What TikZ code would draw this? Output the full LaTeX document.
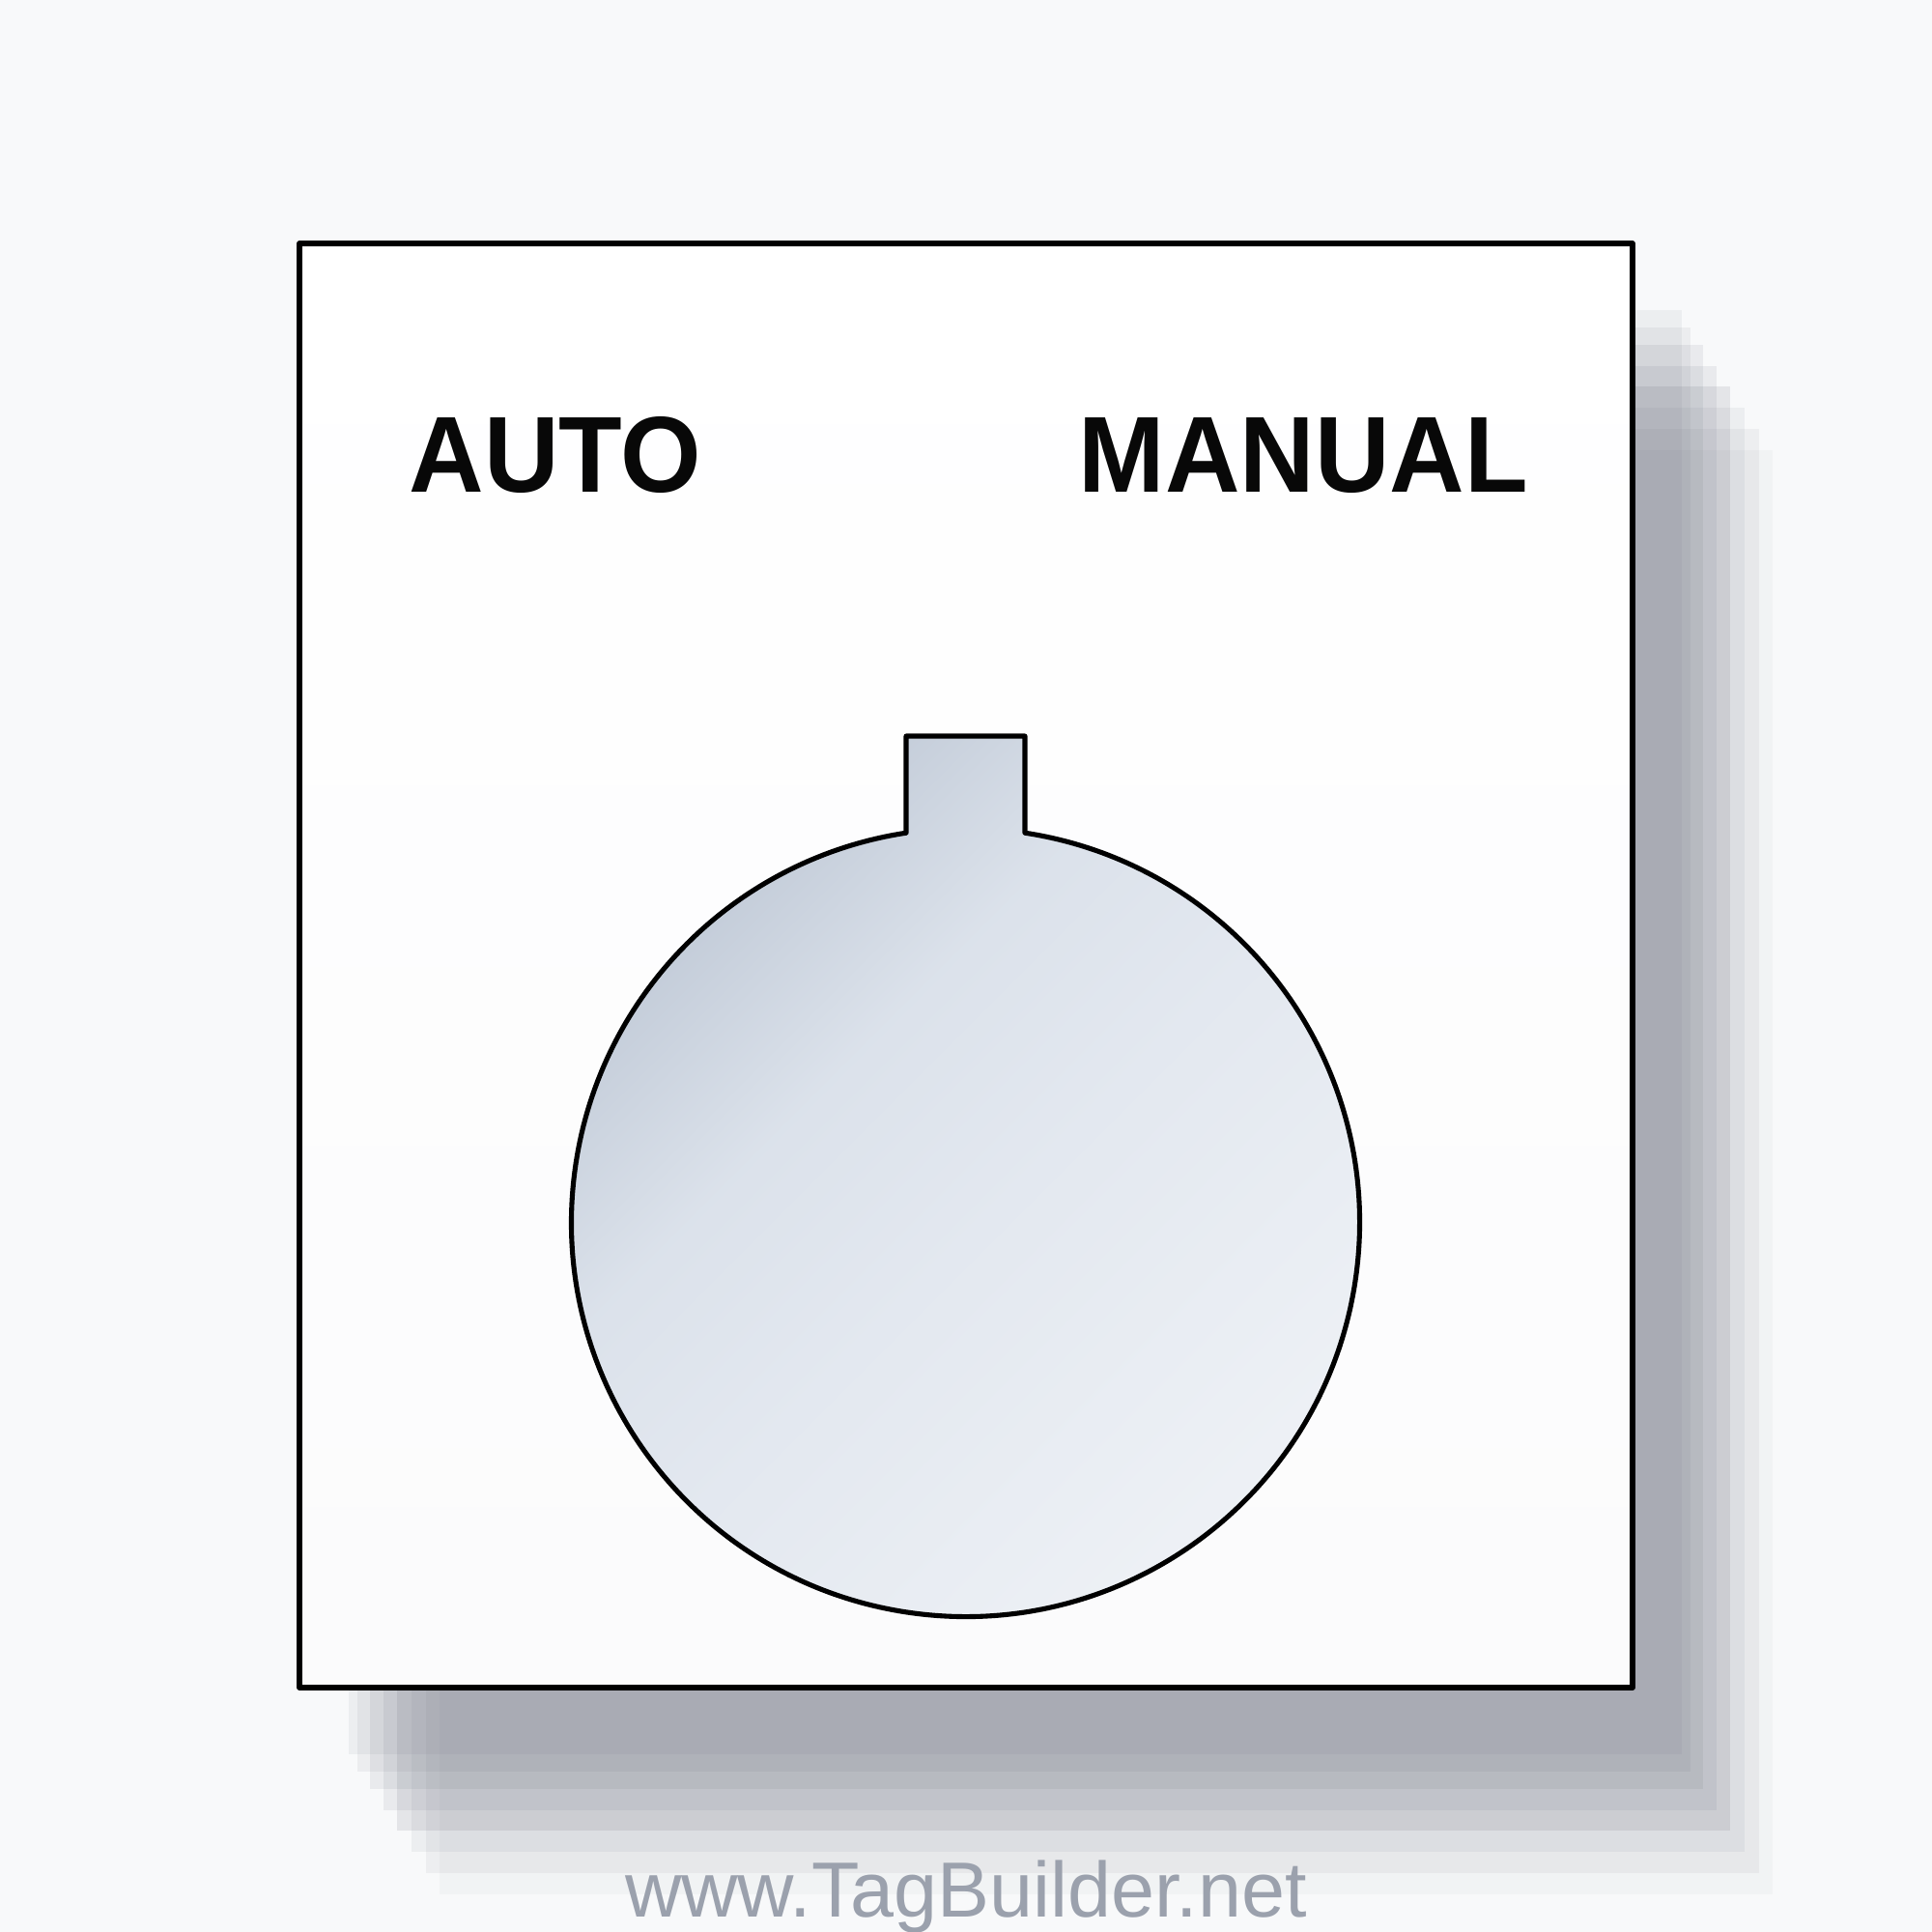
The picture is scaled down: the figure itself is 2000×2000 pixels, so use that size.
\documentclass[tikz,border=0pt]{standalone}
\usepackage{fontspec}
\setmainfont{Liberation Sans}
\definecolor{bgc}{RGB}{248,249,250}
\definecolor{shc}{RGB}{90,97,112}
\definecolor{wmc}{RGB}{155,161,173}
\definecolor{txc}{RGB}{8,8,8}
\definecolor{platebot}{RGB}{251,251,252}
\pgfdeclarehorizontalshading{keyshade}{100bp}{rgb(0bp)=(0.72,0.76,0.82); rgb(28bp)=(0.765,0.80,0.85); rgb(40bp)=(0.86,0.885,0.92); rgb(52bp)=(0.89,0.91,0.94); rgb(76bp)=(0.935,0.947,0.963); rgb(100bp)=(0.961,0.969,0.980)}
\tikzset{
  outline/.style={draw=black, line width=1.45pt, line join=round},
  shadowlayer/.style={fill=shc, fill opacity=#1},
  bigtxt/.style={anchor=base west, inner sep=0pt, text=txc, font=\bfseries\fontsize{31.8}{36}\selectfont, xscale=0.96},
}
\begin{document}
\begin{tikzpicture}[x=0.01cm,y=-0.01cm]
\fill[bgc] (0,0) rectangle (2000,2000);
\useasboundingbox (0,0) rectangle (2000,2000);
% stacked shadow
\foreach \l/\t/\o in {361/321/0.07, 370/339/0.075, 383/357/0.095, 397/379/0.095, 411/400/0.125, 426/422/0.07, 441/444/0.065, 455/466/0.04}
  \fill[shadowlayer=\o] (\l,\t) rectangle ++(1380,1495);
% plate
\path[outline, top color=white, bottom color=platebot] (310,252) rectangle (1690,1747);
% key hole
\path[outline, shading=keyshade, shading angle=-45]
  (938,862.2) -- (938,762) -- (1061,762) -- (1061,862.2)
  arc[start angle=-81.33, end angle=261.33, radius=408] -- cycle;
% labels
\node[bigtxt] (auto) at (423,509) {AUTO};
\node[bigtxt] (manual) at (1116,509) {MANUAL};
\node[anchor=base, inner sep=0pt, text=wmc, font=\fontsize{23}{27}\selectfont] (wm) at (1000,1984) {www.TagBuilder.net};
\end{tikzpicture}
\end{document}
